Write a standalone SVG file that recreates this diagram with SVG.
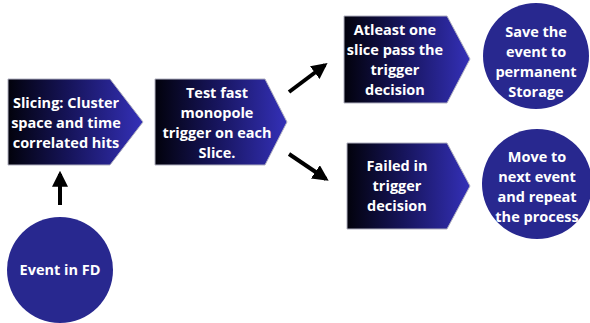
<svg xmlns="http://www.w3.org/2000/svg" width="590" height="323" viewBox="0 0 590 323">
<defs>
<linearGradient id="g" x1="0" y1="0" x2="1" y2="0">
<stop offset="0" stop-color="#02020c"/>
<stop offset="0.45" stop-color="#16145a"/>
<stop offset="1" stop-color="#3430b8"/>
</linearGradient>
<marker id="ah" viewBox="0 0 10 10" refX="8" refY="5" markerWidth="4" markerHeight="4" orient="auto">
<path d="M0,0 L10,5 L0,10 Z" fill="#000"/>
</marker>
</defs>
<style>
.box{fill:url(#g);stroke:#b0b0c0;stroke-width:1}
.circ{fill:#28288f}
.t{font-family:"Open Sans","Liberation Sans",sans-serif;font-weight:700;font-size:14.5px;fill:#ffffff;text-anchor:middle}
.c{stroke:#000;stroke-width:4;fill:none;marker-end:url(#ah)}
</style>
<g id="slicing">
<path class="box" d="M8,79 H110 L143,122 L110,165 H8 Z"/>
<text class="t"><tspan x="66" y="108">Slicing: Cluster</tspan><tspan x="66" y="128">space and time</tspan><tspan x="66" y="148">correlated hits</tspan></text>
</g>
<g id="test">
<path class="box" d="M155,79 H265 L287,122 L265,165 H155 Z"/>
<text class="t"><tspan x="217" y="98">Test fast</tspan><tspan x="217" y="118">monopole</tspan><tspan x="217" y="138">trigger on each</tspan><tspan x="217" y="158">Slice.</tspan></text>
</g>
<g id="pass">
<path class="box" d="M344,16 H447 L470,59 L447,103 H344 Z"/>
<text class="t"><tspan x="395" y="35">Atleast one</tspan><tspan x="395" y="55">slice pass the</tspan><tspan x="395" y="75">trigger</tspan><tspan x="395" y="95">decision</tspan></text>
</g>
<g id="failed">
<path class="box" d="M347,143 H447 L470,186 L447,229 H347 Z"/>
<text class="t"><tspan x="397" y="171">Failed in</tspan><tspan x="397" y="191">trigger</tspan><tspan x="397" y="211">decision</tspan></text>
</g>
<g id="save">
<circle class="circ" cx="536" cy="56" r="53"/>
<text class="t"><tspan x="536" y="37">Save the</tspan><tspan x="536" y="57">event to</tspan><tspan x="536" y="77">permanent</tspan><tspan x="536" y="97">Storage</tspan></text>
</g>
<g id="move">
<circle class="circ" cx="537" cy="184" r="55"/>
<text class="t"><tspan x="537" y="162">Move to</tspan><tspan x="537" y="182">next event</tspan><tspan x="537" y="202">and repeat</tspan><tspan x="537" y="222">the process</tspan></text>
</g>
<g id="event">
<circle class="circ" cx="60" cy="270" r="53"/>
<text class="t"><tspan x="60" y="275">Event in FD</tspan></text>
</g>
<g id="connectors">
<line class="c" x1="60" y1="205" x2="60" y2="174"/>
<line class="c" x1="289" y1="92" x2="325" y2="65"/>
<line class="c" x1="289" y1="154" x2="326" y2="179"/>
</g>
</svg>
